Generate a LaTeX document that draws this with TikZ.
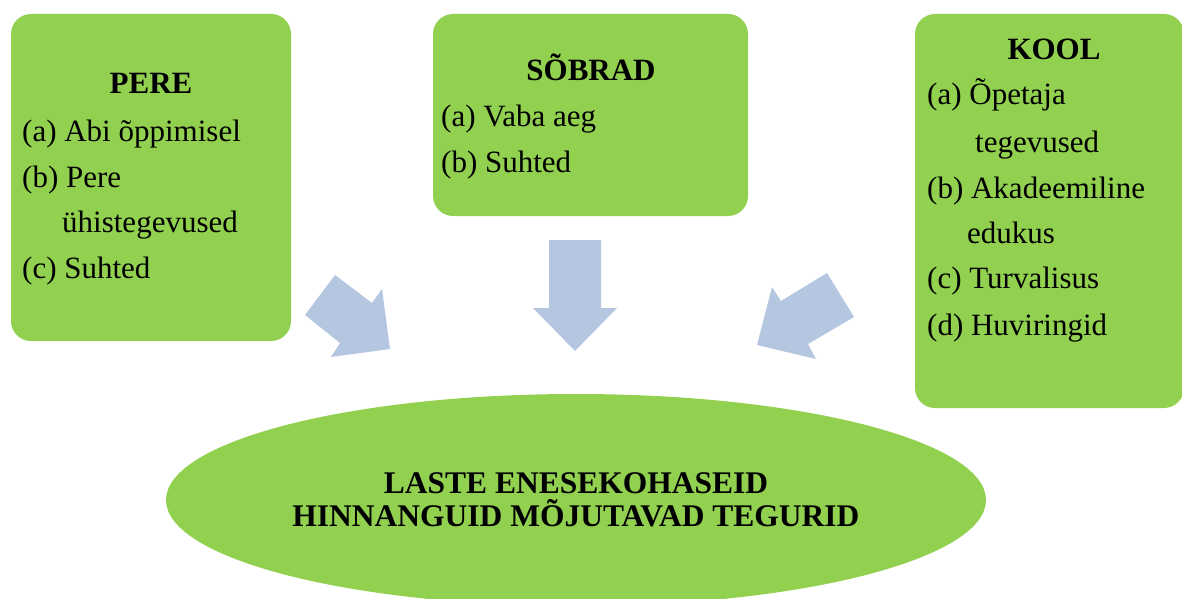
\documentclass[tikz,border=0pt]{standalone}
\usepackage{fontspec}
\setmainfont{Liberation Serif}
\usetikzlibrary{shapes.geometric}
\definecolor{boxgreen}{RGB}{146,208,80}
\definecolor{arrowblue}{RGB}{180,198,224}
\begin{document}
\begin{tikzpicture}[x=1pt,y=-1pt,
  box/.style={fill=boxgreen, draw=none, rounded corners=20pt, inner sep=0pt},
  txt/.style={anchor=base west, inner sep=0pt, font=\fontsize{31}{36}\selectfont},
  head/.style={anchor=base, inner sep=0pt, font=\fontsize{31}{36}\selectfont\bfseries},
  blockarrow/.style={fill=arrowblue, draw=none}]
\useasboundingbox (0,0) rectangle (1182,599);

% boxes
\node[box, minimum width=280pt, minimum height=327pt] (pere) at (151,177.5) {};
\node[box, minimum width=315pt, minimum height=202pt] (sobrad) at (590.5,115) {};
\node[box, minimum width=269pt, minimum height=394pt] (kool) at (1049.5,211) {};

% ellipse
\node[ellipse, fill=boxgreen, draw=none, minimum width=820pt, minimum height=212pt,
      inner sep=0pt, align=center, font=\fontsize{31.5}{33}\selectfont\bfseries]
  (goal) at (576,500) {LASTE ENESEKOHASEID\\HINNANGUID MÕJUTAVAD TEGURID};

% PERE text
\node[head] (pereh) at (151,94) {PERE};
\node[txt] (perea) at (22,141) {(a) Abi õppimisel};
\node[txt] (pereb) at (22,187) {(b) Pere};
\node[txt] (pereb2) at (62,232) {ühistegevused};
\node[txt] (perec) at (22,278) {(c) Suhted};

% SOBRAD text
\node[head] (sobradh) at (591,81) {SÕBRAD};
\node[txt] (sobrada) at (441,127) {(a) Vaba aeg};
\node[txt] (sobradb) at (441,172) {(b) Suhted};

% KOOL text
\node[head] (koolh) at (1054,60) {KOOL};
\node[txt] (koola) at (927,105) {(a) Õpetaja};
\node[txt] (koola2) at (975,152) {tegevused};
\node[txt] (koolb) at (927,198) {(b) Akadeemiline};
\node[txt] (koolb2) at (967,243) {edukus};
\node[txt] (koolc) at (927,288) {(c) Turvalisus};
\node[txt] (koold) at (927,335) {(d) Huviringid};

% block arrows
\fill[blockarrow] (335,275) -- (372,303) -- (382,289) -- (390,349) -- (331,357) -- (340,343) -- (305,315) -- cycle;
\fill[blockarrow] (549,240) -- (601,240) -- (601,308) -- (617,308) -- (575,351) -- (533,308) -- (549,308) -- cycle;
\fill[blockarrow] (827,273) -- (854,317) -- (808,344) -- (816,359) -- (757,345) -- (772,287) -- (781,301) -- cycle;
\end{tikzpicture}
\end{document}
